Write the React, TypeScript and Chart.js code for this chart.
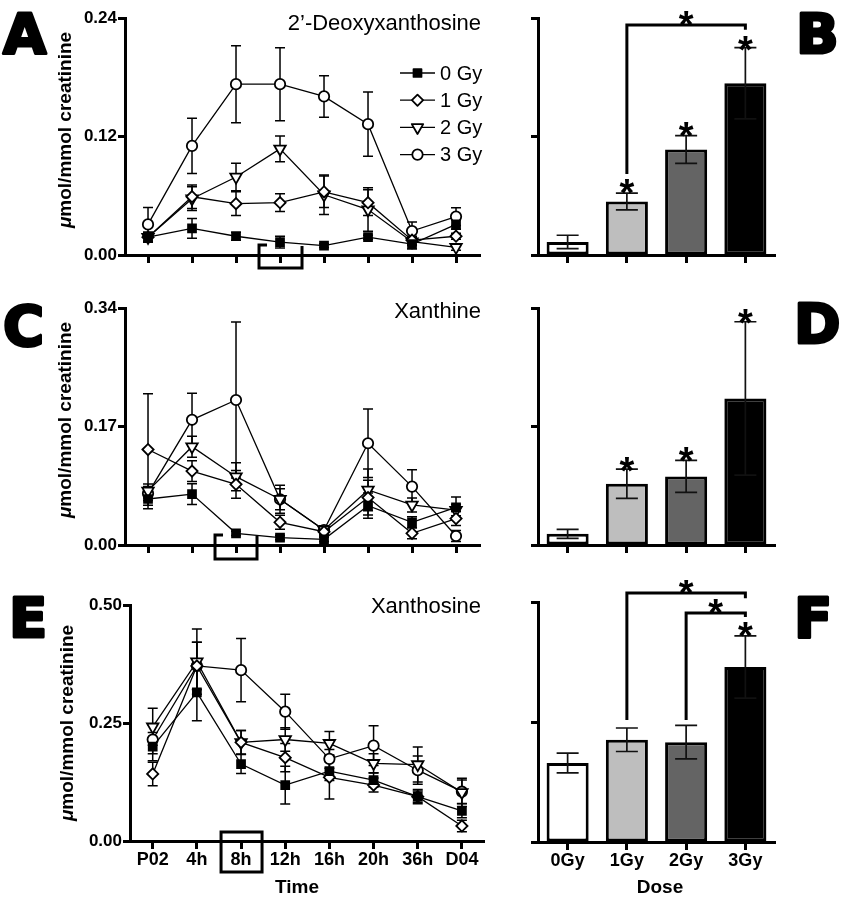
import React, { useEffect, useRef } from 'react';
import { Chart, registerables } from 'chart.js';
Chart.register(...registerables);

// ---------- data ----------
const timeLabels = ['P02', '4h', '8h', '12h', '16h', '20h', '36h', 'D04'];
const doseSeries = ['0 Gy', '1 Gy', '2 Gy', '3 Gy'];
const doseLabels = ['0Gy', '1Gy', '2Gy', '3Gy'];

// A: 2'-Deoxyxanthosine (time course)
const dxa0 = [0.018, 0.027, 0.019, 0.013, 0.0095, 0.018, 0.011, 0.031];
const dxa0Err = [0.005, 0.010, 0.004, 0.006, 0.002, 0.002, 0.005, 0.005];
const dxa1 = [0.018, 0.059, 0.052, 0.053, 0.064, 0.053, 0.015, 0.019];
const dxa1Err = [0.004, 0.012, 0.012, 0.009, 0.016, 0.013, 0.004, 0.003];
const dxa2 = [0.018, 0.057, 0.079, 0.1075, 0.061, 0.046, 0.0135, 0.0078];
const dxa2Err = [0.005, 0.012, 0.014, 0.013, 0.02, 0.022, 0.004, 0.003];
const dxa3 = [0.031, 0.1105, 0.173, 0.173, 0.1606, 0.1325, 0.0243, 0.0389];
const dxa3Err = [0.017, 0.028, 0.039, 0.037, 0.021, 0.0325, 0.009, 0.009];

// C: Xanthine (time course)
const xan0 = [0.066, 0.073, 0.0168, 0.0105, 0.0081, 0.0565, 0.0326, 0.054];
const xan0Err = [0.014, 0.015, 0.003, 0.003, 0.003, 0.018, 0.008, 0.015];
const xan1 = [0.137, 0.106, 0.087, 0.0326, 0.019, 0.068, 0.0168, 0.038];
const xan1Err = [0.08, 0.015, 0.02, 0.01, 0.006, 0.025, 0.008, 0.01];
const xan2 = [0.0776, 0.141, 0.098, 0.0656, 0.0215, 0.079, 0.0575, 0.05];
const xan2Err = [0.01, 0.015, 0.02, 0.02, 0.006, 0.03, 0.01, 0.008];
const xan3 = [0.074, 0.1796, 0.208, 0.0656, 0.0215, 0.146, 0.0838, 0.0129];
const xan3Err = [0.01, 0.038, 0.112, 0.015, 0.005, 0.049, 0.024, 0.008];

// E: Xanthosine (time course)
const xao0 = [0.1999, 0.315, 0.163, 0.1186, 0.148, 0.129, 0.094, 0.064];
const xao0Err = [0.03, 0.06, 0.02, 0.04, 0.02, 0.015, 0.015, 0.015];
const xao1 = [0.142, 0.371, 0.209, 0.1766, 0.135, 0.1186, 0.094, 0.0318];
const xao1Err = [0.025, 0.05, 0.025, 0.03, 0.046, 0.015, 0.012, 0.012];
const xao2 = [0.242, 0.38, 0.209, 0.215, 0.207, 0.1646, 0.162, 0.103];
const xao2Err = [0.039, 0.069, 0.025, 0.025, 0.025, 0.02, 0.037, 0.03];
const xao3 = [0.215, 0.371, 0.362, 0.274, 0.174, 0.202, 0.15, 0.1045];
const xao3Err = [0.03, 0.05, 0.067, 0.037, 0.02, 0.042, 0.03, 0.025];

// B, D, F: 8h values by dose
const dxaBar = [0.0132, 0.0542, 0.1068, 0.1739];
const dxaBarErr = [0.0068, 0.0085, 0.014, 0.036];
const xanBar = [0.016, 0.0879, 0.0984, 0.2103];
const xanBarErr = [0.0065, 0.021, 0.023, 0.11];
const xaoBar = [0.1646, 0.213, 0.208, 0.3646];
const xaoBarErr = [0.0205, 0.0245, 0.035, 0.065];

const dxaTicks = [0, 0.12, 0.24];
const xanTicks = [0, 0.17, 0.34];
const xaoTicks = [0, 0.25, 0.5];

// significance marks (x = dose index, y = data value)
const dxaStars = [{ x: 1, y: 0.0709 }, { x: 2, y: 0.1286 }, { x: 3, y: 0.216 }, { x: 2, y: 0.2413 }];
const dxaBrackets = [{ from: 1, to: 3, y: 0.233, yFrom: 0.082, yTo: 0.228 }];
const xanStars = [{ x: 1, y: 0.117 }, { x: 2, y: 0.1315 }, { x: 3, y: 0.33 }];
const xaoStars = [{ x: 3, y: 0.446 }, { x: 2.5, y: 0.494 }, { x: 2, y: 0.535 }];
const xaoBrackets = [
  { from: 1, to: 3, y: 0.519, yFrom: 0.254, yTo: 0.508 },
  { from: 2, to: 3, y: 0.477, yFrom: 0.254, yTo: 0.469 },
];

// ---------- styles ----------
const FONT = '"Liberation Sans", Arial, Helvetica, sans-serif';
const markerStyles = ['rect', 'rectRot', 'triangle', 'circle'];
const markerRot = [0, 0, 180, 0];
const markerRadius = [5.6, 5.6, 6.6, 5.2];
const markerFill = ['#000', '#fff', '#fff', '#fff'];
const barFills = ['#ffffff', '#bebebe', '#646464', '#000000'];

// ---------- plugins ----------
function drawMarker(ctx: CanvasRenderingContext2D, style: string, x: number, y: number, r: number, fill: string) {
  ctx.save();
  ctx.beginPath();
  if (style === 'rect') {
    const s = Math.SQRT1_2 * r;
    ctx.rect(x - s, y - s, 2 * s, 2 * s);
  } else if (style === 'rectRot') {
    ctx.moveTo(x - r, y); ctx.lineTo(x, y - r); ctx.lineTo(x + r, y); ctx.lineTo(x, y + r); ctx.closePath();
  } else if (style === 'triangle') {
    let rad = Math.PI;
    ctx.moveTo(x + Math.sin(rad) * r, y - Math.cos(rad) * r);
    rad += (2 * Math.PI) / 3;
    ctx.lineTo(x + Math.sin(rad) * r, y - Math.cos(rad) * r);
    rad += (2 * Math.PI) / 3;
    ctx.lineTo(x + Math.sin(rad) * r, y - Math.cos(rad) * r);
    ctx.closePath();
  } else {
    ctx.arc(x, y, r, 0, Math.PI * 2);
  }
  ctx.fillStyle = fill;
  ctx.fill();
  ctx.lineWidth = 1.8;
  ctx.strokeStyle = '#000';
  ctx.stroke();
  ctx.restore();
}

function drawErrors(chart: any, phase: string) {
  const o = chart.options.plugins.errorBars;
  if (!o || o.phase !== phase) return;
  const ctx = chart.ctx;
  const ys = chart.scales.y;
  ctx.save();
  ctx.strokeStyle = o.color;
  ctx.lineWidth = o.lineWidth;
  chart.data.datasets.forEach((ds: any, di: number) => {
    const errs = o.errors[di];
    if (!errs) return;
    const meta = chart.getDatasetMeta(di);
    meta.data.forEach((el: any, i: number) => {
      const d = ds.data[i];
      const v = typeof d === 'number' ? d : d.y;
      const e = errs[i];
      const x = el.x;
      const y1 = ys.getPixelForValue(v + e);
      const y2 = ys.getPixelForValue(v - e);
      ctx.beginPath();
      ctx.moveTo(x, y1); ctx.lineTo(x, y2);
      ctx.moveTo(x - o.cap, y1); ctx.lineTo(x + o.cap, y1);
      ctx.moveTo(x - o.cap, y2); ctx.lineTo(x + o.cap, y2);
      ctx.stroke();
    });
  });
  ctx.restore();
}

const errorBarPlugin = {
  id: 'errorBars',
  beforeDatasetsDraw(chart: any) { drawErrors(chart, 'before'); },
  afterDatasetsDraw(chart: any) { drawErrors(chart, 'after'); },
};

function drawYTitle(ctx: CanvasRenderingContext2D, cx: number, cy: number, size: number) {
  ctx.save();
  ctx.translate(cx, cy);
  ctx.rotate(-Math.PI / 2);
  const f1 = `italic bold ${size}px ${FONT}`;
  const f2 = `bold ${size}px ${FONT}`;
  ctx.font = f1;
  const w1 = ctx.measureText('\u03bc').width;
  ctx.font = f2;
  const rest = 'mol/mmol creatinine';
  const w2 = ctx.measureText(rest).width;
  const start = -(w1 + w2) / 2;
  ctx.textBaseline = 'middle';
  ctx.textAlign = 'left';
  ctx.fillStyle = '#000';
  ctx.font = f1;
  ctx.fillText('\u03bc', start, 0);
  ctx.font = f2;
  ctx.fillText(rest, start + w1, 0);
  ctx.restore();
}

const decorPlugin = {
  id: 'panelDecor',
  afterDraw(chart: any) {
    const o = chart.options.plugins.panelDecor;
    if (!o) return;
    const ctx: CanvasRenderingContext2D = chart.ctx;
    const xs = chart.scales.x;
    const ys = chart.scales.y;
    const axisY = chart.chartArea.bottom;
    ctx.save();
    if (o.letter) {
      ctx.font = `bold 56px "DejaVu Sans", ${FONT}`;
      ctx.textAlign = 'left';
      ctx.textBaseline = 'alphabetic';
      ctx.fillStyle = '#000';
      ctx.strokeStyle = '#000';
      ctx.lineWidth = 3;
      ctx.lineJoin = 'round';
      ctx.fillText(o.letter, o.letterX, o.letterY);
      ctx.strokeText(o.letter, o.letterX, o.letterY);
    }
    if (o.title) {
      ctx.font = `22px ${FONT}`;
      ctx.textAlign = 'right';
      ctx.textBaseline = 'alphabetic';
      ctx.fillStyle = '#000';
      ctx.fillText(o.title, o.titleX, o.titleY);
    }
    if (o.yTitle) drawYTitle(ctx, o.yTitle.x, o.yTitle.y, 19);
    if (o.xTitle) {
      ctx.font = `bold 19px ${FONT}`;
      ctx.textAlign = 'center';
      ctx.textBaseline = 'alphabetic';
      ctx.fillStyle = '#000';
      ctx.fillText(o.xTitle.text, o.xTitle.x, o.xTitle.y);
    }
    if (o.legend) {
      const L = o.legend;
      doseSeries.forEach((name, i) => {
        const y = L.y0 + i * L.dy;
        ctx.beginPath();
        ctx.strokeStyle = '#000';
        ctx.lineWidth = 1.3;
        ctx.moveTo(L.x, y); ctx.lineTo(L.x + L.len, y);
        ctx.stroke();
        drawMarker(ctx, markerStyles[i], L.x + L.len / 2, y, markerRadius[i], markerFill[i]);
        ctx.font = `20px ${FONT}`;
        ctx.textAlign = 'left';
        ctx.textBaseline = 'middle';
        ctx.fillStyle = '#000';
        ctx.fillText(name, L.x + L.len + 5, y + 1);
      });
    }
    if (o.highlight) {
      const h = o.highlight;
      const cx = xs.getPixelForValue(h.index);
      const x0 = cx + h.dx0, x1 = cx + h.dx1, y0 = axisY + h.dyTop, y1 = axisY + h.dyBot;
      ctx.beginPath();
      ctx.strokeStyle = '#000';
      ctx.lineWidth = 3;
      ctx.lineJoin = 'miter';
      if (h.full) {
        ctx.rect(x0, y0, x1 - x0, y1 - y0);
      } else {
        ctx.moveTo(x0 + 8, y0); ctx.lineTo(x0, y0); ctx.lineTo(x0, y1); ctx.lineTo(x1, y1); ctx.lineTo(x1, y0 + 1);
      }
      ctx.stroke();
    }
    if (o.brackets) {
      ctx.strokeStyle = '#000';
      ctx.lineWidth = 3;
      ctx.lineJoin = 'miter';
      o.brackets.forEach((b: any) => {
        const xa = xs.getPixelForValue(b.from);
        const xb = xs.getPixelForValue(b.to);
        ctx.beginPath();
        ctx.moveTo(xa, ys.getPixelForValue(b.yFrom));
        ctx.lineTo(xa, ys.getPixelForValue(b.y));
        ctx.lineTo(xb, ys.getPixelForValue(b.y));
        ctx.lineTo(xb, ys.getPixelForValue(b.yTo));
        ctx.stroke();
      });
    }
    if (o.stars) {
      ctx.font = `bold 38px ${FONT}`;
      ctx.textAlign = 'center';
      ctx.textBaseline = 'alphabetic';
      ctx.fillStyle = '#000';
      o.stars.forEach((s: any) => {
        const x = xs.getPixelForValue(s.x);
        const y = ys.getPixelForValue(s.y);
        ctx.fillText('*', x, y + 21);
      });
    }
    ctx.restore();
  },
};

Chart.register(errorBarPlugin as any, decorPlugin as any);

// ---------- config builders ----------
function axisGrid(len: number) {
  return { display: true, drawOnChartArea: false, drawTicks: true, tickLength: len, tickWidth: 3, tickColor: '#000', offset: false };
}
const axisBorder = { display: true, width: 3, color: '#000' };
const tickFont = { family: FONT, size: 17, weight: 'bold' as const };

function lineConfig(p: any) {
  return {
    type: 'line',
    data: {
      datasets: p.series.map((vals: number[], si: number) => ({
        label: doseSeries[si],
        data: vals.map((v, i) => ({ x: i, y: v })),
        borderColor: '#000',
        borderWidth: 1.3,
        pointStyle: markerStyles[si],
        pointRotation: markerRot[si],
        pointRadius: markerRadius[si],
        pointBorderWidth: 1.8,
        pointBackgroundColor: markerFill[si],
        pointBorderColor: '#000',
        tension: 0,
        clip: false,
      })),
    },
    options: {
      animation: false,
      responsive: false,
      maintainAspectRatio: false,
      events: [],
      layout: { padding: { left: 0, right: p.rightPad, top: p.top, bottom: 0 } },
      plugins: {
        legend: { display: false },
        tooltip: { enabled: false },
        errorBars: { phase: 'before', errors: p.errors, cap: 5, color: '#000', lineWidth: 1.5 },
        panelDecor: p.decor,
      },
      scales: {
        x: {
          type: 'linear',
          min: p.xmin,
          max: p.xmax,
          afterBuildTicks: (s: any) => { s.ticks = timeLabels.map((_, i) => ({ value: i })); },
          afterFit: (s: any) => { s.height = p.xAxisH; },
          ticks: {
            display: p.showX,
            autoSkip: false,
            maxRotation: 0,
            padding: 0,
            color: '#000',
            font: { family: FONT, size: 18, weight: 'bold' },
            callback: (v: number) => timeLabels[v],
          },
          grid: axisGrid(8),
          border: axisBorder,
        },
        y: {
          type: 'linear',
          min: 0,
          max: p.ymax,
          afterBuildTicks: (s: any) => { s.ticks = p.yTicks.map((v: number) => ({ value: v })); },
          afterFit: (s: any) => { s.width = p.yLeft; },
          ticks: { color: '#000', padding: 1, font: tickFont, callback: (v: number) => v.toFixed(2) },
          grid: axisGrid(7),
          border: axisBorder,
        },
      },
    },
  };
}

function barConfig(p: any) {
  return {
    type: 'bar',
    data: {
      labels: doseLabels,
      datasets: [{
        data: p.values,
        backgroundColor: barFills,
        borderColor: '#000',
        borderWidth: 3,
        borderSkipped: false,
        barPercentage: 0.71,
        categoryPercentage: 1,
      }],
    },
    options: {
      animation: false,
      responsive: false,
      maintainAspectRatio: false,
      events: [],
      layout: { padding: { left: 0, right: p.rightPad, top: p.top, bottom: 0 } },
      plugins: {
        legend: { display: false },
        tooltip: { enabled: false },
        errorBars: { phase: 'after', errors: [p.errors], cap: 11, color: '#111', lineWidth: 1.7 },
        panelDecor: p.decor,
      },
      scales: {
        x: {
          type: 'category',
          offset: true,
          afterFit: (s: any) => { s.height = p.xAxisH; },
          ticks: { display: p.showX, color: '#000', padding: 0, font: { family: FONT, size: 18, weight: 'bold' } },
          grid: axisGrid(8),
          border: axisBorder,
        },
        y: {
          type: 'linear',
          min: 0,
          max: p.ymax,
          afterBuildTicks: (s: any) => { s.ticks = p.yTicks.map((v: number) => ({ value: v })); },
          afterFit: (s: any) => { s.width = p.yLeft; },
          ticks: { display: false },
          grid: axisGrid(7),
          border: axisBorder,
        },
      },
    },
  };
}

// ---------- panels ----------
const panels = [
  {
    key: 'A', left: 0, top: 0, width: 500, height: 290,
    cfg: () => lineConfig({
      series: [dxa0, dxa1, dxa2, dxa3], errors: [dxa0Err, dxa1Err, dxa2Err, dxa3Err],
      ymax: 0.24, yTicks: dxaTicks, yLeft: 125, top: 18, xAxisH: 35, rightPad: 20,
      xmin: -0.523, xmax: 7.545, showX: false,
      decor: {
        letter: 'A', letterX: 3, letterY: 53,
        title: '2\u2019-Deoxyxanthosine', titleX: 481, titleY: 30,
        yTitle: { x: 66, y: 130 },
        legend: { x: 400, len: 35, y0: 73, dy: 27.2 },
        highlight: { index: 3, dx0: -21, dx1: 22, dyTop: -10, dyBot: 13, full: false },
      },
    }),
  },
  {
    key: 'B', left: 500, top: 0, width: 344, height: 290,
    cfg: () => barConfig({
      values: dxaBar, errors: dxaBarErr, ymax: 0.24, yTicks: dxaTicks,
      yLeft: 38, top: 18, xAxisH: 35, rightPad: 69, showX: false,
      decor: { letter: 'B', letterX: 296, letterY: 53, stars: dxaStars, brackets: dxaBrackets },
    }),
  },
  {
    key: 'C', left: 0, top: 290, width: 500, height: 290,
    cfg: () => lineConfig({
      series: [xan0, xan1, xan2, xan3], errors: [xan0Err, xan1Err, xan2Err, xan3Err],
      ymax: 0.34, yTicks: xanTicks, yLeft: 125, top: 18, xAxisH: 35, rightPad: 20,
      xmin: -0.523, xmax: 7.545, showX: false,
      decor: {
        letter: 'C', letterX: 3, letterY: 55,
        title: 'Xanthine', titleX: 481, titleY: 28,
        yTitle: { x: 66, y: 130 },
        highlight: { index: 2, dx0: -21, dx1: 21, dyTop: -10, dyBot: 14, full: false },
      },
    }),
  },
  {
    key: 'D', left: 500, top: 290, width: 344, height: 290,
    cfg: () => barConfig({
      values: xanBar, errors: xanBarErr, ymax: 0.34, yTicks: xanTicks,
      yLeft: 38, top: 18, xAxisH: 35, rightPad: 69, showX: false,
      decor: { letter: 'D', letterX: 294, letterY: 53, stars: xanStars },
    }),
  },
  {
    key: 'E', left: 0, top: 580, width: 500, height: 324,
    cfg: () => lineConfig({
      series: [xao0, xao1, xao2, xao3], errors: [xao0Err, xao1Err, xao2Err, xao3Err],
      ymax: 0.5, yTicks: xaoTicks, yLeft: 130, top: 25, xAxisH: 63, rightPad: 16,
      xmin: -0.514, xmax: 7.5, showX: true,
      decor: {
        letter: 'E', letterX: 9, letterY: 57,
        title: 'Xanthosine', titleX: 481, titleY: 33,
        yTitle: { x: 68, y: 143 },
        xTitle: { text: 'Time', x: 297, y: 313 },
        highlight: { index: 2, dx0: -20, dx1: 21, dyTop: -9, dyBot: 31, full: true },
      },
    }),
  },
  {
    key: 'F', left: 500, top: 580, width: 344, height: 324,
    cfg: () => barConfig({
      values: xaoBar, errors: xaoBarErr, ymax: 0.5, yTicks: xaoTicks,
      yLeft: 38, top: 22, xAxisH: 62, rightPad: 69, showX: true,
      decor: {
        letter: 'F', letterX: 294, letterY: 57, stars: xaoStars, brackets: xaoBrackets,
        xTitle: { text: 'Dose', x: 160, y: 313 },
      },
    }),
  },
];

function Panel({ p }: { p: any }) {
  const ref = useRef<HTMLCanvasElement>(null);
  useEffect(() => {
    const chart = new Chart(ref.current as HTMLCanvasElement, p.cfg() as any);
    return () => chart.destroy();
  }, []);
  return (
    <canvas
      ref={ref}
      width={p.width}
      height={p.height}
      style={{ position: 'absolute', left: p.left, top: p.top, width: p.width, height: p.height }}
    />
  );
}

export default function App() {
  return (
    <div style={{ position: 'absolute', left: 0, top: 0, width: 844, height: 904, background: '#fff', overflow: 'hidden' }}>
      {panels.map((p) => <Panel key={p.key} p={p} />)}
    </div>
  );
}
